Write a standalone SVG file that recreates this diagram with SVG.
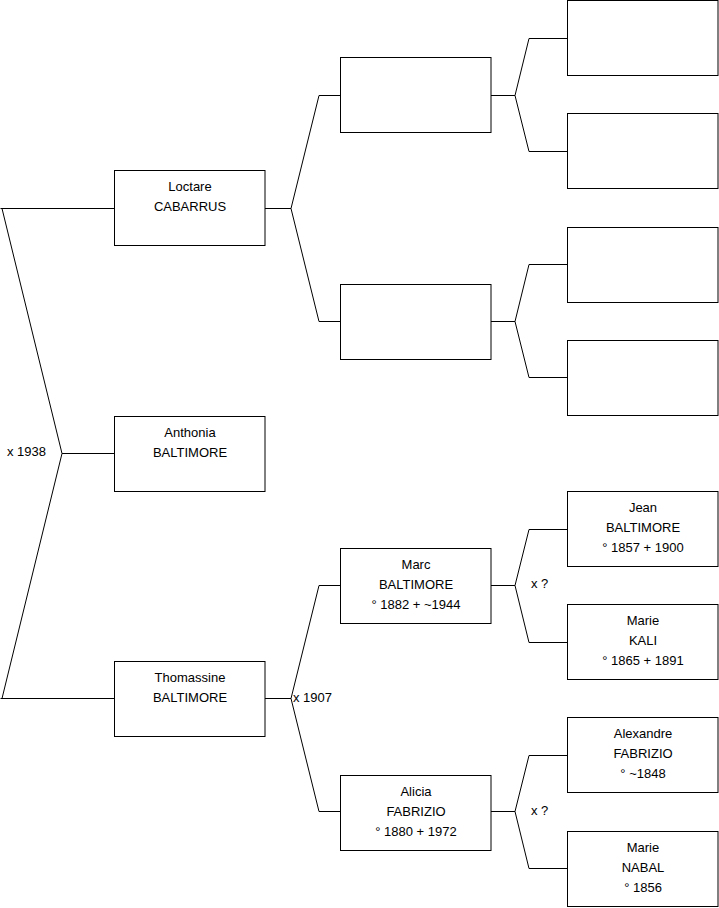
<svg xmlns="http://www.w3.org/2000/svg" width="719" height="908" viewBox="0 0 719 908">
<style>
.box{fill:#fff;stroke:#000;stroke-width:1}
.c{fill:none;stroke:#000;stroke-width:1}
text{font-family:"Liberation Sans",Arial,sans-serif;font-size:13px;fill:#000}
.m{text-anchor:middle}
</style>
<rect width="719" height="908" fill="#fff"/>
<g id="connectors">
<path class="c" d="M114,208.5 H0.5 M2,208.5 L62,453.5 L2,698.5 M0.5,698.5 H114 M62,453.5 H114"/>
<path class="c" d="M265,208.5 H291 L319,95.5 H340 M291,208.5 L319,321.5 H340"/>
<path class="c" d="M265,698.5 H291 L319,585.5 H340 M291,698.5 L319,811.5 H340"/>
<path class="c" d="M491,95.5 H515 L529,38.5 H567 M515,95.5 L529,151.5 H567"/>
<path class="c" d="M491,321.5 H515 L529,264.5 H567 M515,321.5 L529,377.5 H567"/>
<path class="c" d="M491,585.5 H515 L529,529.5 H567 M515,585.5 L529,642.5 H567"/>
<path class="c" d="M491,811.5 H515 L529,755.5 H567 M515,811.5 L529,868.5 H567"/>
<text x="7" y="456">x 1938</text>
<text x="293" y="702">x 1907</text>
<text x="531" y="588">x ?</text>
<text x="531" y="815">x ?</text>
</g>
<g id="loctare"><rect class="box" x="114.5" y="170.5" width="150.5" height="75"/><text class="m" x="190" y="191">Loctare</text><text class="m" x="190" y="211">CABARRUS</text></g>
<g id="anthonia"><rect class="box" x="114.5" y="416.5" width="150.5" height="75"/><text class="m" x="190" y="437">Anthonia</text><text class="m" x="190" y="457">BALTIMORE</text></g>
<g id="thomassine"><rect class="box" x="114.5" y="661.5" width="150.5" height="75"/><text class="m" x="190" y="682">Thomassine</text><text class="m" x="190" y="702">BALTIMORE</text></g>
<g id="p2a"><rect class="box" x="340.5" y="57.5" width="150.5" height="75"/></g>
<g id="p2b"><rect class="box" x="340.5" y="284.5" width="150.5" height="75"/></g>
<g id="marc"><rect class="box" x="340.5" y="548.5" width="150.5" height="75"/><text class="m" x="416" y="569">Marc</text><text class="m" x="416" y="589">BALTIMORE</text><text class="m" x="416" y="609">° 1882 + ~1944</text></g>
<g id="alicia"><rect class="box" x="340.5" y="775.5" width="150.5" height="75"/><text class="m" x="416" y="796">Alicia</text><text class="m" x="416" y="816">FABRIZIO</text><text class="m" x="416" y="836">° 1880 + 1972</text></g>
<g id="p3a"><rect class="box" x="567.5" y="0.5" width="150.5" height="75"/></g>
<g id="p3b"><rect class="box" x="567.5" y="113.5" width="150.5" height="75"/></g>
<g id="p3c"><rect class="box" x="567.5" y="227.5" width="150.5" height="75"/></g>
<g id="p3d"><rect class="box" x="567.5" y="340.5" width="150.5" height="75"/></g>
<g id="jean"><rect class="box" x="567.5" y="491.5" width="150.5" height="75"/><text class="m" x="643" y="512">Jean</text><text class="m" x="643" y="532">BALTIMORE</text><text class="m" x="643" y="552">° 1857 + 1900</text></g>
<g id="marie-kali"><rect class="box" x="567.5" y="604.5" width="150.5" height="75"/><text class="m" x="643" y="625">Marie</text><text class="m" x="643" y="645">KALI</text><text class="m" x="643" y="665">° 1865 + 1891</text></g>
<g id="alexandre"><rect class="box" x="567.5" y="717.5" width="150.5" height="75"/><text class="m" x="643" y="738">Alexandre</text><text class="m" x="643" y="758">FABRIZIO</text><text class="m" x="643" y="778">° ~1848</text></g>
<g id="marie-nabal"><rect class="box" x="567.5" y="831.5" width="150.5" height="75"/><text class="m" x="643" y="852">Marie</text><text class="m" x="643" y="872">NABAL</text><text class="m" x="643" y="892">° 1856</text></g>
</svg>
